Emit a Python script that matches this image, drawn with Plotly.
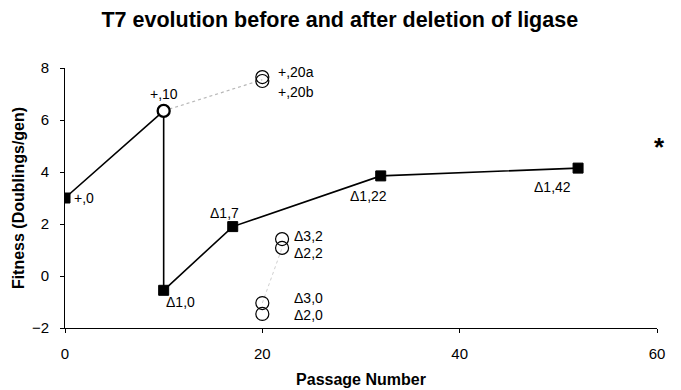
import plotly.graph_objects as go

# Main lineage (solid line)
main_passage = [0, 10, 10, 17, 32, 52]
main_fitness = [3.0, 6.35, -0.55, 1.9, 3.85, 4.15]
main_labels = ["+,0", "+,10", "Δ1,0", "Δ1,7", "Δ1,22", "Δ1,42"]

# Side lineages (open circles)
open_passage = [20, 20, 22, 22, 20, 20]
open_fitness = [7.65, 7.5, 1.42, 1.08, -1.04, -1.46]
open_labels = ["+,20a", "+,20b", "Δ3,2", "Δ2,2", "Δ3,0", "Δ2,0"]

# Dotted connectors
dot1_passage = [10, 20]
dot1_fitness = [6.35, 7.55]
dot2_passage = [20, 22]
dot2_fitness = [-1.04, 1.08]

x_ticks = [0, 20, 40, 60]
y_ticks = [-2, 0, 2, 4, 6, 8]

FONT = "Arial, Liberation Sans, sans-serif"

fig = go.Figure()

fig.add_trace(go.Scatter(x=dot1_passage, y=dot1_fitness, mode="lines",
                         line=dict(color="#b8b8b8", width=1.2, dash="dot"),
                         hoverinfo="skip", showlegend=False))
fig.add_trace(go.Scatter(x=dot2_passage, y=dot2_fitness, mode="lines",
                         line=dict(color="#d0d0d0", width=1, dash="dot"),
                         hoverinfo="skip", showlegend=False))

fig.add_trace(go.Scatter(x=main_passage, y=main_fitness, mode="lines",
                         line=dict(color="black", width=1.6),
                         showlegend=False))
sq_x = [x for i, x in enumerate(main_passage) if i != 1]
sq_y = [y for i, y in enumerate(main_fitness) if i != 1]
fig.add_trace(go.Scatter(x=sq_x, y=sq_y, mode="markers",
                         marker=dict(symbol="square", size=10, color="black",
                                     line=dict(color="black", width=1)),
                         showlegend=False))
fig.add_trace(go.Scatter(x=[main_passage[1]], y=[main_fitness[1]], mode="markers",
                         marker=dict(symbol="circle", size=12, color="white",
                                     line=dict(color="black", width=2.3)),
                         showlegend=False))
fig.add_trace(go.Scatter(x=open_passage, y=open_fitness, mode="markers",
                         marker=dict(symbol="circle", size=13, color="rgba(255,255,255,0)",
                                     line=dict(color="black", width=1.2)),
                         showlegend=False))

# label offsets in pixels (x, y, anchor)
main_off = [(7, 0, "left"), (0, 17, "center"), (0, -12, "left"),
            (-8, 14, "center"), (-12, -20, "center"), (-26, -19, "center")]
open_off = [(14, 5, "left"), (14, -11, "left"), (10, 3, "left"),
            (10, -5, "left"), (30, 5, "left"), (30, -1, "left")]

for xs, ys, labs, offs in [(main_passage, main_fitness, main_labels, main_off),
                           (open_passage, open_fitness, open_labels, open_off)]:
    for x, y, lab, (dx, dy, anc) in zip(xs, ys, labs, offs):
        fig.add_annotation(x=x, y=y, text=lab, showarrow=False, xanchor=anc,
                           yanchor="middle", xshift=dx, yshift=dy,
                           font=dict(family=FONT, size=14, color="black"))

fig.add_annotation(x=1.005, y=0.696, xref="paper", yref="paper", text="<b>*</b>",
                   showarrow=False, xanchor="center", yanchor="middle",
                   font=dict(family=FONT, size=26, color="black"))

fig.update_layout(
    width=673, height=382,
    margin=dict(l=57, r=24, t=60, b=62),
    plot_bgcolor="white", paper_bgcolor="white",
    title=dict(text="<b>T7 evolution before and after deletion of ligase</b>",
               x=0.493, xanchor="center", y=0.969, yanchor="middle",
               font=dict(family=FONT, size=21.5, color="black")),
    xaxis=dict(range=[0, 60], tickvals=x_ticks, showgrid=False, zeroline=False,
               showline=True, linecolor="black", linewidth=1,
               ticks="outside", ticklen=4, tickcolor="black", automargin=False,
               ticklabelstandoff=8,
               tickfont=dict(family=FONT, size=15, color="black"),
               title=dict(text="<b>Passage Number</b>", standoff=12,
                          font=dict(family=FONT, size=16, color="black"))),
    yaxis=dict(range=[-2, 8], tickvals=y_ticks, showgrid=False, zeroline=False,
               showline=True, linecolor="black", linewidth=1,
               ticks="outside", ticklen=4, tickcolor="black", automargin=False,
               ticklabelstandoff=8,
               tickfont=dict(family=FONT, size=15, color="black"),
               title=dict(text="<b>Fitness (Doublings/gen)</b>", standoff=3,
                          font=dict(family=FONT, size=16, color="black"))),
)

fig.write_html("out.html")
